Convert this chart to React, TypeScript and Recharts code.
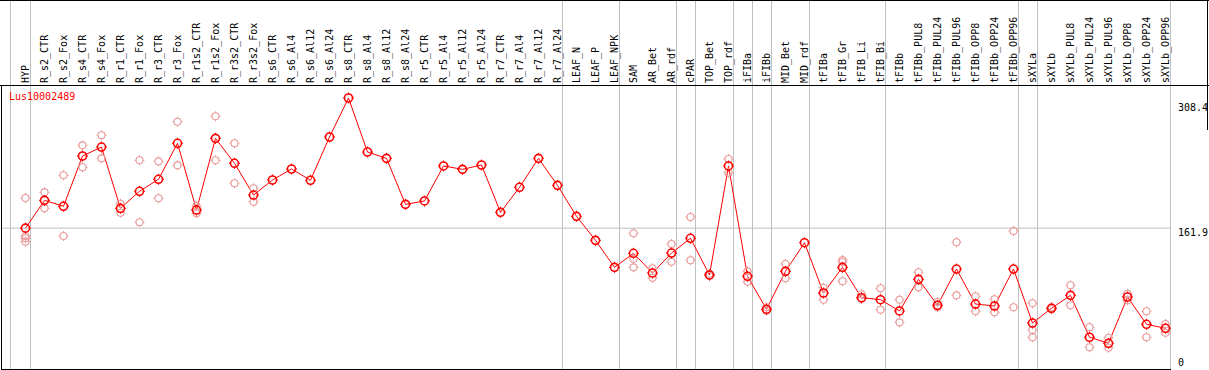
import React from 'react';
import { ComposedChart, Line, XAxis, YAxis, ReferenceLine } from 'recharts';

const geneName = 'Lus10002489';

const categories = [
  'HYP', 'R_s2_CTR', 'R_s2_Fox', 'R_s4_CTR', 'R_s4_Fox', 'R_r1_CTR', 'R_r1_Fox', 'R_r3_CTR', 'R_r3_Fox',
  'R_r1s2_CTR', 'R_r1s2_Fox', 'R_r3s2_CTR', 'R_r3s2_Fox', 'R_s6_CTR', 'R_s6_Al4', 'R_s6_Al12', 'R_s6_Al24',
  'R_s8_CTR', 'R_s8_Al4', 'R_s8_Al12', 'R_s8_Al24', 'R_r5_CTR', 'R_r5_Al4', 'R_r5_Al12', 'R_r5_Al24',
  'R_r7_CTR', 'R_r7_Al4', 'R_r7_Al12', 'R_r7_Al24', 'LEAF_N', 'LEAF_P', 'LEAF_NPK', 'SAM', 'AR_Bet', 'AR_rdf',
  'cPAR', 'TOP_Bet', 'TOP_rdf', 'iFIBa', 'iFIBb', 'MID_Bet', 'MID_rdf', 'tFIBa', 'tFIB_Gr', 'tFIB_Li', 'tFIB_Bi',
  'tFIBb', 'tFIBb_PUL8', 'tFIBb_PUL24', 'tFIBb_PUL96', 'tFIBb_OPP8', 'tFIBb_OPP24', 'tFIBb_OPP96',
  'sXYLa', 'sXYLb', 'sXYLb_PUL8', 'sXYLb_PUL24', 'sXYLb_PUL96', 'sXYLb_OPP8', 'sXYLb_OPP24', 'sXYLb_OPP96',
];

// mean expression per sample (red line)
const meanValues = [
  161.9, 193.2, 186.5, 243.1, 253.2, 184.2, 203.4, 216.9, 257.4,
  182.3, 263.0, 234.9, 199.2, 216.1, 228.5, 215.8, 264.5,
  308.4, 247.6, 240.5, 188.7, 192.5, 231.9, 228.1, 233.0,
  179.7, 207.9, 240.5, 210.1, 175.2, 148.2, 117.8, 133.6, 111.4, 133.9,
  150.5, 109.2, 231.9, 107.7, 70.6, 113.3, 145.5, 88.9, 117.8, 83.6, 81.4,
  68.7, 104.3, 75.1, 115.9, 76.5, 74.3, 115.9,
  55.1, 71.7, 86.3, 39.1, 32.3, 84.4, 53.7, 49.2,
];

// individual replicates (pink circles)
const rep1 = [
  195.8, 202.2, 221.4, 255.1, 266.4, 189.4, 238.3, 237.1, 281.7,
  186.8, 287.8, 257.4, 206.8, null, null, null, null,
  null, null, null, null, null, null, null, null,
  null, null, null, null, null, null, null, 156.1, 116.7, 144.1,
  174.5, 110.5, 239.7, 113.3, 72.8, 121.6, null, 94.9, 126.1, 87.5, 94.2,
  81.4, 112.2, 78.8, 146.0, 85.2, 81.8, 158.7,
  77.3, 72.8, 97.6, 50.3, 38.6, 88.1, 68.3, 54.0,
];
const rep2 = [
  153.1, 184.2, 153.1, 230.4, 240.5, 179.3, 168.5, 195.5, 232.6,
  178.6, 238.3, 212.4, 191.7, null, null, null, null,
  null, null, null, null, null, null, null, null,
  null, null, null, null, null, null, null, 127.5, 106.1, 124.1,
  125.7, 108.0, 224.3, 101.6, 69.0, 105.5, null, 81.4, 123.8, 82.2, 70.1,
  55.9, 95.3, 72.8, 86.3, 68.3, 67.2, 72.8,
  47.3, 70.6, 75.1, 27.8, 27.3, 80.7, 39.1, 44.2,
];
const rep3 = [
  150.5, null, null, null, null, null, null, null, null,
  null, null, null, null, null, null, null, null,
  null, null, null, null, null, null, null, null,
  null, null, null, null, null, null, null, 117.8, null, null,
  null, null, null, null, null, null, null, null, 102.1, null, null,
  null, null, null, null, null, null, null,
  39.1, null, null, null, null, null, null, null,
];
const rep4 = [
  146.7, null, null, null, null, null, null, null, null,
  null, null, null, null, null, null, null, null,
  null, null, null, null, null, null, null, null,
  null, null, null, null, null, null, null, null, null, null,
  null, null, null, null, null, null, null, null, null, null, null,
  null, null, null, null, null, null, null,
  null, null, null, null, null, null, null, null,
];

// last sample of each tissue group -> grey separator after it
const groupEnds = [0, 28, 31, 34, 35, 37, 38, 39, 41, 45, 52, 53, 60];
const yTicks = [0, 161.9, 308.4];

const MONO = '"DejaVu Sans Mono", "Liberation Mono", monospace';
const GRID = '#c0c0c0';

const tableData = categories.map((name, i) => ({
  x: i,
  name,
  mean: meanValues[i],
  r1: rep1[i],
  r2: rep2[i],
  r3: rep3[i],
  r4: rep4[i],
}));

const makeDot = (color: string, r: number, w: number) => (props: any) => {
  const { cx, cy, value, index } = props;
  if (value == null || cy == null || isNaN(cy)) return <g key={`e-${index}`} />;
  const s = 1.5;
  return (
    <g key={`d-${index}`}>
      <circle cx={cx} cy={cy} r={r} fill="none" stroke={color} strokeWidth={w} />
      <path
        d={`M${cx},${cy - r - s}v${s}M${cx},${cy + r}v${s}M${cx - r - s},${cy}h${s}M${cx + r},${cy}h${s}`}
        stroke={color}
        strokeWidth={1}
      />
    </g>
  );
};

const mainDot = makeDot('#ff0000', 4, 1.6);
const repDot = makeDot('#e99a9a', 3.5, 1.1);

// rotated sample names in the header band, plus the header part of the group separators
const HeaderTick = (props: any) => {
  const { x, payload } = props;
  const i = payload.value;
  const tx = x + 3.5;
  return (
    <g>
      {i === 0 && <line x1={x - 15} y1={0} x2={x - 15} y2={85} stroke={GRID} />}
      {groupEnds.includes(i) && <line x1={x + 5} y1={0} x2={x + 5} y2={85} stroke={GRID} />}
      <text x={tx} y={83} transform={`rotate(-90 ${tx} 83)`} fontFamily={MONO} fontSize={10} fill="#000" textAnchor="start">
        {categories[i]}
      </text>
    </g>
  );
};

const ValueTick = (props: any) => {
  const { x, y, payload } = props;
  const v = payload.value;
  const dy = v === 0 ? -6 : v === 161.9 ? 8 : 13;
  return (
    <text x={x + 7.5} y={y + dy} fontFamily={MONO} fontSize={10} fill="#000" textAnchor="start">
      {v}
    </text>
  );
};

export default function App() {
  return (
    <div style={{ position: 'relative', width: 1209, height: 370, overflow: 'hidden', background: '#fff' }}>
      <style>{'body{margin:0}'}</style>
      <ComposedChart width={1209} height={372} data={tableData} margin={{ top: 0, right: 0.5, bottom: 0, left: 1.5 }}>
        <XAxis
          dataKey="x"
          type="number"
          orientation="top"
          height={85}
          domain={[-24 / 19, 60 + 5 / 19]}
          ticks={categories.map((_, i) => i)}
          interval={0}
          tick={HeaderTick}
          axisLine={false}
          tickLine={false}
        />
        <YAxis
          orientation="right"
          type="number"
          width={38}
          domain={[0, 308.4]}
          ticks={yTicks}
          interval={0}
          padding={{ top: 13, bottom: 0 }}
          tick={ValueTick}
          tickSize={0}
          tickMargin={0}
          axisLine={false}
          tickLine={false}
        />
        <ReferenceLine y={161.9} stroke={GRID} strokeWidth={1} />
        <ReferenceLine x={-15 / 19} stroke={GRID} strokeWidth={1} />
        {groupEnds.map((g) => (
          <ReferenceLine key={`g-${g}`} x={g + 5 / 19} stroke={GRID} strokeWidth={1} />
        ))}
        <Line dataKey="r1" stroke="none" dot={repDot} activeDot={false} isAnimationActive={false} />
        <Line dataKey="r2" stroke="none" dot={repDot} activeDot={false} isAnimationActive={false} />
        <Line dataKey="r3" stroke="none" dot={repDot} activeDot={false} isAnimationActive={false} />
        <Line dataKey="r4" stroke="none" dot={repDot} activeDot={false} isAnimationActive={false} />
        <Line type="linear" dataKey="mean" stroke="#ff0000" strokeWidth={1} dot={mainDot} activeDot={false} isAnimationActive={false} />
      </ComposedChart>
      <svg width={1209} height={370} style={{ position: 'absolute', left: 0, top: 0, pointerEvents: 'none' }}>
        <line x1={0} y1={0.5} x2={1209} y2={0.5} stroke="#000" />
        <line x1={0} y1={85.5} x2={1209} y2={85.5} stroke="#000" />
        <line x1={1.5} y1={85} x2={1.5} y2={370} stroke="#000" />
        <line x1={1} y1={369.5} x2={1171} y2={369.5} stroke="#000" />
        <line x1={1207.5} y1={0} x2={1207.5} y2={130} stroke="#000" />
        <text x={9} y={100} fontFamily={MONO} fontSize={10} fill="#ff0000">
          {geneName}
        </text>
      </svg>
    </div>
  );
}
